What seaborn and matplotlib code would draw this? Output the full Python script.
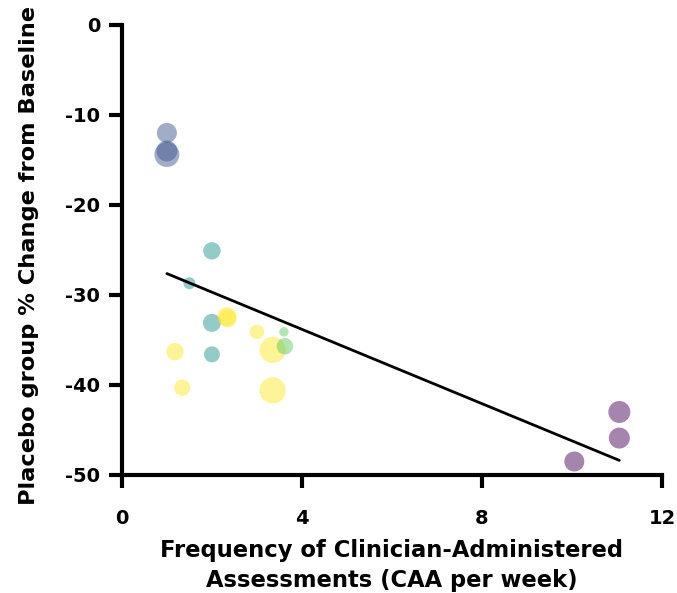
import matplotlib
matplotlib.use("Agg")
import matplotlib.pyplot as plt
import seaborn as sns
import pandas as pd

# ---- data ----
caa_per_week = [1.0, 1.0, 1.0, 1.5, 2.0, 2.0, 2.0, 2.33, 2.35, 3.0, 3.6, 3.35, 3.62,
                1.18, 1.34, 3.35, 11.05, 11.05, 10.05]
placebo_change = [-12.0, -14.0, -14.4, -28.7, -25.1, -33.1, -36.6, -32.4, -32.6, -34.1,
                  -34.1, -36.1, -35.7, -36.3, -40.3, -40.6, -43.0, -45.9, -48.5]
group = [1, 1, 1, 2, 2, 2, 2, 4, 4, 4, 3, 4, 3, 4, 4, 4, 0, 0, 0]
sample_n = [100, 110, 156, 36, 76, 81, 64, 90, 81, 52, 22, 172, 68, 76, 66, 172, 121, 110, 100]

xticks = [0, 4, 8, 12]
yticks = [0, -10, -20, -30, -40, -50]

df = pd.DataFrame({"caa": caa_per_week, "change": placebo_change,
                   "group": group, "n": sample_n})

sns.set_style("ticks")
plt.rcParams['font.family'] = ['DejaVu Sans']
plt.rcParams['font.weight'] = 'bold'
plt.rcParams['text.color'] = 'black'
plt.rcParams['axes.labelcolor'] = 'black'

fig = plt.figure(figsize=(6.77, 5.93), dpi=100)
ax = fig.add_axes([0.180, 0.199, 0.798, 0.759])

sns.scatterplot(data=df, x="caa", y="change", hue="group", palette="viridis",
                hue_norm=(0, 4), size="n", sizes=(2.0736 * 20, 2.0736 * 172),
                size_norm=(20, 172), alpha=0.48, linewidth=0, legend=False,
                ax=ax, zorder=2)
sns.regplot(data=df, x="caa", y="change", scatter=False, ci=None, color="black",
            line_kws={"linewidth": 2.0, "zorder": 3}, ax=ax)

ax.set_xlim(0, 12)
ax.set_ylim(-50, 0)
ax.set_xticks(xticks)
ax.set_yticks(yticks)
ax.set_xticklabels([str(t) for t in xticks])
ax.set_yticklabels([str(t) for t in yticks])

for s in ["top", "right"]:
    ax.spines[s].set_visible(False)
for s in ["left", "bottom"]:
    ax.spines[s].set_linewidth(3)
    ax.spines[s].set_color("black")

ax.tick_params(axis="both", width=3, length=9.5, labelsize=14, color="black",
               labelcolor="black")
ax.tick_params(axis="x", pad=15)
ax.tick_params(axis="y", pad=6)

ax.set_xlabel("Frequency of Clinician-Administered\nAssessments (CAA per week)",
              fontsize=16.3, fontweight="bold", labelpad=8, linespacing=1.4,
              color="black")
ax.set_ylabel("Placebo group % Change from Baseline", fontsize=16.2,
              fontweight="bold", color="black")
ax.yaxis.set_label_coords(-0.153, 0.488)

fig.savefig("out.png", dpi=100)
